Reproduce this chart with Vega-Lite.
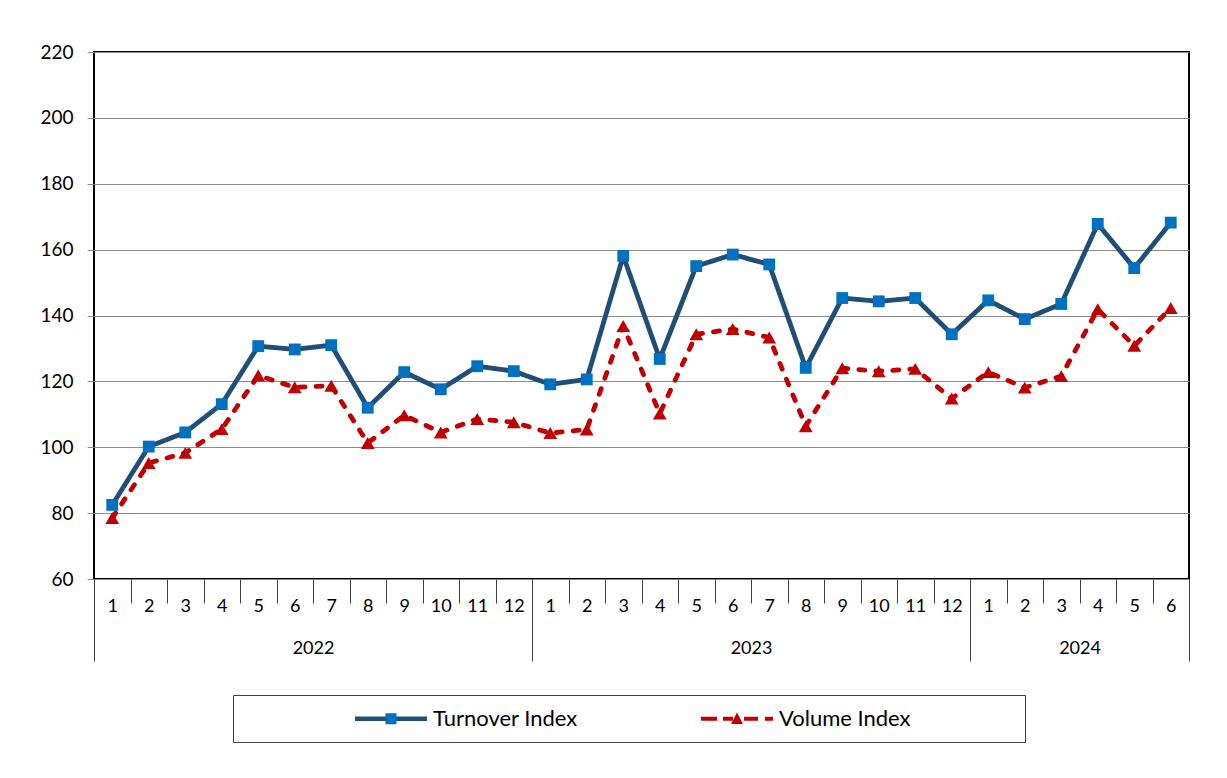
{
  "$schema": "https://vega.github.io/schema/vega-lite/v6.json",
  "width": 1095,
  "height": 527,
  "autosize": {"type": "none"},
  "padding": {"left": 94, "top": 52, "right": 38, "bottom": 199},
  "background": "white",
  "config": {
    "font": "Lato",
    "view": {"stroke": "black", "strokeWidth": 2},
    "axis": {"labelFont": "Lato", "labelColor": "black", "grid": false, "domain": false, "title": null}
  },
  "data": {
    "values": [
      {"i": 1, "s": "Turnover Index", "v": 82.5},
      {"i": 2, "s": "Turnover Index", "v": 100.2},
      {"i": 3, "s": "Turnover Index", "v": 104.5},
      {"i": 4, "s": "Turnover Index", "v": 113.1},
      {"i": 5, "s": "Turnover Index", "v": 130.7},
      {"i": 6, "s": "Turnover Index", "v": 129.7},
      {"i": 7, "s": "Turnover Index", "v": 131.0},
      {"i": 8, "s": "Turnover Index", "v": 112.0},
      {"i": 9, "s": "Turnover Index", "v": 122.8},
      {"i": 10, "s": "Turnover Index", "v": 117.6},
      {"i": 11, "s": "Turnover Index", "v": 124.6},
      {"i": 12, "s": "Turnover Index", "v": 123.1},
      {"i": 13, "s": "Turnover Index", "v": 119.1},
      {"i": 14, "s": "Turnover Index", "v": 120.6},
      {"i": 15, "s": "Turnover Index", "v": 158.1},
      {"i": 16, "s": "Turnover Index", "v": 126.8},
      {"i": 17, "s": "Turnover Index", "v": 155.0},
      {"i": 18, "s": "Turnover Index", "v": 158.5},
      {"i": 19, "s": "Turnover Index", "v": 155.5},
      {"i": 20, "s": "Turnover Index", "v": 124.1},
      {"i": 21, "s": "Turnover Index", "v": 145.3},
      {"i": 22, "s": "Turnover Index", "v": 144.3},
      {"i": 23, "s": "Turnover Index", "v": 145.3},
      {"i": 24, "s": "Turnover Index", "v": 134.3},
      {"i": 25, "s": "Turnover Index", "v": 144.6},
      {"i": 26, "s": "Turnover Index", "v": 138.9},
      {"i": 27, "s": "Turnover Index", "v": 143.5},
      {"i": 28, "s": "Turnover Index", "v": 167.8},
      {"i": 29, "s": "Turnover Index", "v": 154.4},
      {"i": 30, "s": "Turnover Index", "v": 168.2},
      {"i": 1, "s": "Volume Index", "v": 78.5},
      {"i": 2, "s": "Volume Index", "v": 95.2},
      {"i": 3, "s": "Volume Index", "v": 98.3},
      {"i": 4, "s": "Volume Index", "v": 105.5},
      {"i": 5, "s": "Volume Index", "v": 121.8},
      {"i": 6, "s": "Volume Index", "v": 118.2},
      {"i": 7, "s": "Volume Index", "v": 118.7},
      {"i": 8, "s": "Volume Index", "v": 101.3},
      {"i": 9, "s": "Volume Index", "v": 109.7},
      {"i": 10, "s": "Volume Index", "v": 104.5},
      {"i": 11, "s": "Volume Index", "v": 108.6},
      {"i": 12, "s": "Volume Index", "v": 107.6},
      {"i": 13, "s": "Volume Index", "v": 104.3},
      {"i": 14, "s": "Volume Index", "v": 105.4},
      {"i": 15, "s": "Volume Index", "v": 136.8},
      {"i": 16, "s": "Volume Index", "v": 110.2},
      {"i": 17, "s": "Volume Index", "v": 134.3},
      {"i": 18, "s": "Volume Index", "v": 135.9},
      {"i": 19, "s": "Volume Index", "v": 133.3},
      {"i": 20, "s": "Volume Index", "v": 106.4},
      {"i": 21, "s": "Volume Index", "v": 124.0},
      {"i": 22, "s": "Volume Index", "v": 123.1},
      {"i": 23, "s": "Volume Index", "v": 123.8},
      {"i": 24, "s": "Volume Index", "v": 114.8},
      {"i": 25, "s": "Volume Index", "v": 122.8},
      {"i": 26, "s": "Volume Index", "v": 118.1},
      {"i": 27, "s": "Volume Index", "v": 121.6},
      {"i": 28, "s": "Volume Index", "v": 141.9},
      {"i": 29, "s": "Volume Index", "v": 130.8},
      {"i": 30, "s": "Volume Index", "v": 142.3}
    ]
  },
  "encoding": {
    "y": {
      "field": "v",
      "type": "quantitative",
      "scale": {"domain": [60, 220], "nice": false, "zero": false},
      "axis": {
        "values": [60, 80, 100, 120, 140, 160, 180, 200, 220],
        "grid": true,
        "gridColor": "#8c8c8c",
        "gridWidth": 1,
        "ticks": true,
        "tickSize": 7,
        "tickColor": "#8c8c8c",
        "labelPadding": 14,
        "labelFontSize": 19,
        "title": null
      }
    }
  },
  "layer": [
    {
      "mark": {"type": "line", "strokeWidth": 4.8, "strokeCap": "round", "strokeJoin": "round"},
      "encoding": {
        "x": {
          "field": "i",
          "type": "quantitative",
          "scale": {"domain": [0.5, 30.5], "nice": false, "zero": false},
          "axis": {
            "orient": "bottom",
            "values": [0.5, 1.5, 2.5, 3.5, 4.5, 5.5, 6.5, 7.5, 8.5, 9.5, 10.5, 11.5, 12.5, 13.5, 14.5, 15.5, 16.5, 17.5, 18.5, 19.5, 20.5, 21.5, 22.5, 23.5, 24.5, 25.5, 26.5, 27.5, 28.5, 29.5, 30.5],
            "labels": false,
            "ticks": true,
            "tickSize": 24,
            "tickColor": "#404040",
            "tickWidth": 1,
            "title": null
          }
        },
        "color": {
          "field": "s",
          "type": "nominal",
          "scale": {"domain": ["Turnover Index", "Volume Index"], "range": ["#1F4E79", "#C00000"]},
          "legend": {
            "orient": "none",
            "legendX": 139,
            "legendY": 643,
            "direction": "horizontal",
            "title": "\u00a0",
            "titleOrient": "left",
            "titleFontSize": 1,
            "titlePadding": 110,
            "padding": 12,
            "strokeColor": "#404040",
            "labelFont": "Lato",
            "labelFontSize": 22,
            "labelColor": "black",
            "labelOffset": 55,
            "labelLimit": 600,
            "columnPadding": 123,
            "symbolSize": 529,
            "encode": {
              "symbols": {
                "update": {
                  "shape": {"signal": "datum.value === 'Turnover Index' ? 'M-1,-0.19H1.7V0.19H-1Z M2.56,-0.19H5.26V0.19H2.56Z' : 'M-1,-0.17H0.39V0.17H-1Z M0.91,-0.17H1.78V0.17H0.91Z M2.74,-0.17H3.96V0.17H2.74Z M4.56,-0.17H5.26V0.17H4.56Z M26.1,0L26.1,0'"},
                  "fill": {"signal": "datum.value === 'Turnover Index' ? '#1F4E79' : '#C00000'"},
                  "fillOpacity": {"value": 1},
                  "opacity": {"value": 1},
                  "stroke": {"value": "transparent"},
                  "strokeWidth": {"value": 0},
                  "strokeDash": {"value": [1, 0]},
                  "size": {"value": 529}
                }
              }
            }
          }
        },
        "strokeDash": {
          "field": "s",
          "type": "nominal",
          "scale": {"domain": ["Turnover Index", "Volume Index"], "range": [[1, 0], [6, 11]]},
          "legend": null
        }
      }
    },
    {
      "mark": {"type": "point", "filled": true, "opacity": 1, "strokeWidth": 0},
      "encoding": {
        "x": {
          "field": "i",
          "type": "quantitative",
          "scale": {"domain": [0.5, 30.5], "nice": false, "zero": false},
          "axis": {
            "orient": "bottom",
            "values": [1, 2, 3, 4, 5, 6, 7, 8, 9, 10, 11, 12, 13, 14, 15, 16, 17, 18, 19, 20, 21, 22, 23, 24, 25, 26, 27, 28, 29, 30],
            "ticks": false,
            "tickSize": 0,
            "labelPadding": 18,
            "labelFontSize": 18,
            "labelOverlap": false,
            "labelFlush": false,
            "labelExpr": "(datum.value - 1) % 12 + 1",
            "title": null
          }
        },
        "shape": {
          "field": "s",
          "type": "nominal",
          "scale": {"domain": ["Turnover Index", "Volume Index"], "range": ["square", "triangle-up"]},
          "legend": null
        },
        "size": {
          "field": "s",
          "type": "nominal",
          "scale": {"domain": ["Turnover Index", "Volume Index"], "range": [140, 190]},
          "legend": null
        },
        "color": {
          "field": "s",
          "type": "nominal",
          "scale": {"domain": ["Turnover Index", "Volume Index"], "range": ["#0070C0", "#C00000"]},
          "legend": null
        }
      }
    },
    {
      "mark": {"type": "point", "opacity": 0},
      "encoding": {
        "x": {
          "field": "i",
          "type": "quantitative",
          "scale": {"domain": [0.5, 30.5], "nice": false, "zero": false},
          "axis": {
            "orient": "bottom",
            "values": [0.5, 12.5, 24.5, 30.5],
            "labels": false,
            "ticks": true,
            "tickSize": 82,
            "tickColor": "#404040",
            "tickWidth": 1,
            "title": null
          }
        }
      }
    },
    {
      "mark": {"type": "point", "opacity": 0},
      "encoding": {
        "x": {
          "field": "i",
          "type": "quantitative",
          "scale": {"domain": [0.5, 30.5], "nice": false, "zero": false},
          "axis": {
            "orient": "bottom",
            "values": [6.5, 18.5, 27.5],
            "ticks": false,
            "tickSize": 0,
            "labelPadding": 60,
            "labelFontSize": 18,
            "labelOverlap": false,
            "labelFlush": false,
            "labelExpr": "datum.value < 12 ? '2022' : (datum.value < 24 ? '2023' : '2024')",
            "title": null
          }
        }
      }
    },
    {
      "mark": {"type": "line", "strokeOpacity": 0, "strokeWidth": 1},
      "encoding": {
        "x": {
          "field": "i",
          "type": "quantitative",
          "scale": {"domain": [0.5, 30.5], "nice": false, "zero": false},
          "axis": null
        },
        "color": {
          "field": "s",
          "type": "nominal",
          "scale": {"domain": ["Turnover Index", "Volume Index"], "range": ["#0070C0", "#C00000"]},
          "legend": {
            "orient": "none",
            "legendX": 139,
            "legendY": 643,
            "direction": "horizontal",
            "title": "\u00a0",
            "titleOrient": "left",
            "titleFontSize": 1,
            "titlePadding": 110,
            "padding": 12,
            "labelFont": "Lato",
            "labelFontSize": 22,
            "labelColor": "black",
            "labelOpacity": 0,
            "labelOffset": 55,
            "labelLimit": 600,
            "columnPadding": 123,
            "symbolSize": 529,
            "encode": {
              "symbols": {
                "update": {
                  "shape": {"signal": "datum.value === 'Turnover Index' ? 'M1.65,-0.48H2.61V0.48H1.65Z' : 'M2.13,-0.55L2.65,0.45L1.61,0.45Z'"},
                  "fill": {"signal": "datum.value === 'Turnover Index' ? '#0070C0' : '#C00000'"},
                  "fillOpacity": {"value": 1},
                  "opacity": {"value": 1},
                  "strokeOpacity": {"value": 0},
                  "stroke": {"value": "transparent"},
                  "strokeWidth": {"value": 0},
                  "size": {"value": 529}
                }
              }
            }
          }
        }
      }
    }
  ],
  "resolve": {"axis": {"x": "independent"}, "scale": {"color": "independent"}}
}
